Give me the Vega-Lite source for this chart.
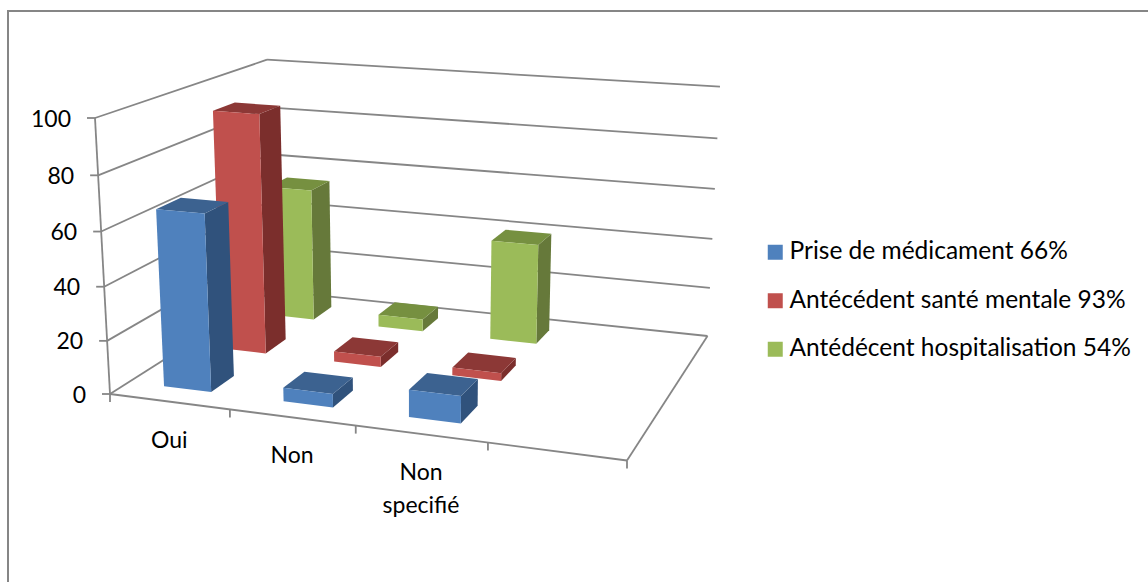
{
  "$schema": "https://vega.github.io/schema/vega-lite/v6.json",
  "width": 1200,
  "height": 600,
  "autosize": "none",
  "padding": {"left": 8, "top": 11, "right": 0, "bottom": 0},
  "background": "white",
  "view": {"stroke": "#868686", "strokeWidth": 2, "fill": "white"},
  "config": {"font": "Lato"},
  "datasets": {
    "mesures": [
      {"categorie": "Oui", "serie": "Antédécent hospitalisation 54%", "rang": 2, "valeur": 54},
      {"categorie": "Non", "serie": "Antédécent hospitalisation 54%", "rang": 2, "valeur": 5},
      {"categorie": "Non specifié", "serie": "Antédécent hospitalisation 54%", "rang": 2, "valeur": 40},
      {"categorie": "Oui", "serie": "Antécédent santé mentale 93%", "rang": 1, "valeur": 93},
      {"categorie": "Non", "serie": "Antécédent santé mentale 93%", "rang": 1, "valeur": 4},
      {"categorie": "Non specifié", "serie": "Antécédent santé mentale 93%", "rang": 1, "valeur": 3},
      {"categorie": "Oui", "serie": "Prise de médicament 66%", "rang": 0, "valeur": 66},
      {"categorie": "Non", "serie": "Prise de médicament 66%", "rang": 0, "valeur": 5},
      {"categorie": "Non specifié", "serie": "Prise de médicament 66%", "rang": 0, "valeur": 10}
    ],
    "cadre": [
      {"trait": "gauche", "valeur": 0}, {"trait": "gauche", "valeur": 20}, {"trait": "gauche", "valeur": 40},
      {"trait": "gauche", "valeur": 60}, {"trait": "gauche", "valeur": 80}, {"trait": "gauche", "valeur": 100},
      {"trait": "fond", "valeur": 0}, {"trait": "fond", "valeur": 20}, {"trait": "fond", "valeur": 40},
      {"trait": "fond", "valeur": 60}, {"trait": "fond", "valeur": 80}, {"trait": "fond", "valeur": 100},
      {"trait": "ticky", "valeur": 0}, {"trait": "ticky", "valeur": 20}, {"trait": "ticky", "valeur": 40},
      {"trait": "ticky", "valeur": 60}, {"trait": "ticky", "valeur": 80}, {"trait": "ticky", "valeur": 100},
      {"trait": "axe", "valeur": 0}, {"trait": "avant", "valeur": 0}, {"trait": "droite", "valeur": 0},
      {"trait": "tickx", "valeur": 0, "repere": 0}, {"trait": "tickx", "valeur": 0, "repere": 0.25},
      {"trait": "tickx", "valeur": 0, "repere": 0.5}, {"trait": "tickx", "valeur": 0, "repere": 0.75},
      {"trait": "tickx", "valeur": 0, "repere": 1}
    ]
  },
  "layer": [
    {
      "data": {"name": "cadre"},
      "transform": [
        {"calculate": "datum.trait=='droite'?1:(datum.trait=='tickx'?datum.repere:0)", "as": "ua"},
        {"calculate": "datum.trait=='fond'?1:0", "as": "va"},
        {"calculate": "datum.valeur/100", "as": "wa"},
        {"calculate": "(datum.trait=='fond'||datum.trait=='avant'||datum.trait=='droite')?1:(datum.trait=='tickx'?datum.repere:0)", "as": "ub"},
        {"calculate": "(datum.trait=='gauche'||datum.trait=='fond'||datum.trait=='droite')?1:0", "as": "vb"},
        {"calculate": "datum.trait=='axe'?1:datum.valeur/100", "as": "wb"},
        {"calculate": "(458.06*datum.ua+219.38*datum.va-19.39*datum.wa+110)/(1-0.094*datum.ua+0.207*datum.va-0.0462*datum.wa)", "as": "xa"},
        {"calculate": "(23.21*datum.ua-43.25*datum.va-281.45*datum.wa+394)/(1-0.094*datum.ua+0.207*datum.va-0.0462*datum.wa)", "as": "ya"},
        {"calculate": "(458.06*datum.ub+219.38*datum.vb-19.39*datum.wb+110)/(1-0.094*datum.ub+0.207*datum.vb-0.0462*datum.wb)+(datum.trait=='ticky'?-8:0)", "as": "xb"},
        {"calculate": "(23.21*datum.ub-43.25*datum.vb-281.45*datum.wb+394)/(1-0.094*datum.ub+0.207*datum.vb-0.0462*datum.wb)+(datum.trait=='tickx'?8:0)", "as": "yb"}
      ],
      "mark": {"type": "rule", "color": "#868686", "strokeWidth": 1.8},
      "encoding": {
        "x": {"field": "xa", "type": "quantitative", "axis": null, "scale": {"domain": [8, 1208], "nice": false, "zero": false}},
        "y": {"field": "ya", "type": "quantitative", "axis": null, "scale": {"domain": [11, 611], "nice": false, "zero": false, "reverse": true}},
        "x2": {"field": "xb"},
        "y2": {"field": "yb"}
      }
    },
    {
      "data": {"name": "cadre"},
      "transform": [
        {"filter": "datum.trait=='ticky'"},
        {"calculate": "datum.valeur/100", "as": "w"},
        {"calculate": "(-19.39*datum.w+110)/(1-0.0462*datum.w)", "as": "xt"},
        {"calculate": "(-281.45*datum.w+394)/(1-0.0462*datum.w)", "as": "yt"}
      ],
      "mark": {"type": "text", "align": "right", "baseline": "middle", "dx": -24, "dy": 1.5, "fontSize": 23, "color": "#000000"},
      "encoding": {
        "x": {"field": "xt", "type": "quantitative", "axis": null},
        "y": {"field": "yt", "type": "quantitative", "axis": null},
        "text": {"field": "valeur", "type": "quantitative"}
      }
    },
    {
      "data": {"name": "mesures"},
      "transform": [
        {"filter": "datum.rang==0"},
        {"calculate": "(indexof(['Oui','Non','Non specifié'],datum.categorie)+0.5)/4", "as": "u"},
        {"calculate": "(458.06*datum.u+110)/(1-0.094*datum.u)", "as": "xt"},
        {"calculate": "(23.21*datum.u+394)/(1-0.094*datum.u)", "as": "yt"}
      ],
      "mark": {"type": "text", "align": "center", "baseline": "top", "dy": 28, "fontSize": 23, "lineBreak": " ", "lineHeight": 33, "color": "#000000"},
      "encoding": {
        "x": {"field": "xt", "type": "quantitative", "axis": null},
        "y": {"field": "yt", "type": "quantitative", "axis": null},
        "text": {"field": "categorie", "type": "nominal"}
      }
    },
    {
      "data": {"name": "mesures"},
      "transform": [
        {"calculate": "['cote','dessus','face']", "as": "pan"},
        {"flatten": ["pan"]},
        {"calculate": "[0,1,2,3]", "as": "sommet"},
        {"flatten": ["sommet"]},
        {"calculate": "(indexof(['Oui','Non','Non specifié'],datum.categorie)+0.5)/4", "as": "uc"},
        {"calculate": "(datum.rang+0.5)/3", "as": "vc"},
        {"calculate": "datum.uc+0.05*(datum.pan=='cote'?1:((datum.sommet==0||datum.sommet==3)?-1:1))", "as": "u"},
        {"calculate": "datum.vc+0.0667*(datum.pan=='face'?-1:(datum.pan=='cote'?((datum.sommet==0||datum.sommet==3)?-1:1):(datum.sommet<=1?-1:1)))", "as": "v"},
        {"calculate": "(datum.pan=='dessus'||datum.sommet>=2)?datum.valeur/100:0", "as": "w"},
        {"calculate": "1-0.094*datum.u+0.207*datum.v-0.0462*datum.w", "as": "den"},
        {"calculate": "(458.06*datum.u+219.38*datum.v-19.39*datum.w+110)/datum.den", "as": "px"},
        {"calculate": "(23.21*datum.u-43.25*datum.v-281.45*datum.w+394)/datum.den", "as": "py"},
        {"calculate": "datum.pan=='face'?datum.serie:datum.serie+'|'+datum.pan", "as": "teinte"},
        {"calculate": "datum.categorie+'|'+datum.serie+'|'+datum.pan", "as": "pave"}
      ],
      "mark": {"type": "line", "strokeWidth": 0, "stroke": null, "interpolate": "linear-closed"},
      "encoding": {
        "x": {"field": "px", "type": "quantitative", "axis": null},
        "y": {"field": "py", "type": "quantitative", "axis": null},
        "detail": {"field": "pave", "type": "nominal"},
        "order": {"field": "sommet", "type": "quantitative"},
        "fill": {
          "field": "teinte",
          "type": "nominal",
          "scale": {
            "domain": [
              "Prise de médicament 66%", "Antécédent santé mentale 93%", "Antédécent hospitalisation 54%",
              "Prise de médicament 66%|cote", "Antécédent santé mentale 93%|cote", "Antédécent hospitalisation 54%|cote",
              "Prise de médicament 66%|dessus", "Antécédent santé mentale 93%|dessus", "Antédécent hospitalisation 54%|dessus"
            ],
            "range": [
              "#4F81BD", "#C0504D", "#9BBB59",
              "#30527C", "#7B2E2C", "#66793A",
              "#3C6290", "#8C3836", "#769040"
            ]
          },
          "legend": {
            "values": ["Prise de médicament 66%", "Antécédent santé mentale 93%", "Antédécent hospitalisation 54%"],
            "title": null,
            "orient": "none",
            "legendX": 755,
            "legendY": 229,
            "padding": 0,
            "symbolType": "square",
            "symbolSize": 225,
            "symbolStrokeWidth": 0,
            "labelFontSize": 24.5,
            "labelFont": "Lato",
            "labelColor": "#000000",
            "labelOffset": 2,
            "labelLimit": 400,
            "rowPadding": 23.5
          }
        }
      }
    }
  ]
}
